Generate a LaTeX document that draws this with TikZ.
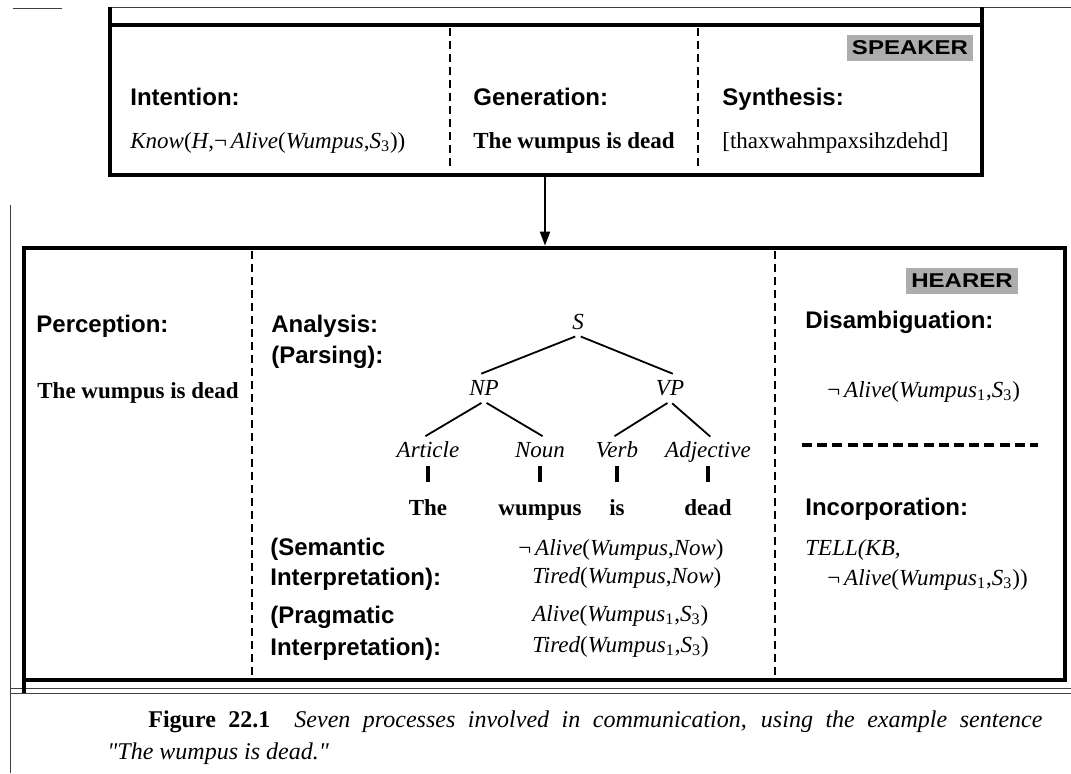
\documentclass[tikz,border=0pt]{standalone}
\usepackage{fontspec}
\setmainfont{Liberation Serif}
\setsansfont{Liberation Sans}
\newfontfamily\tagfont{Liberation Sans}[FakeStretch=1.2]
\newfontfamily\quotefont{Liberation Serif}[Ligatures=TeXOff]
\usetikzlibrary{arrows.meta,positioning}

\newcommand{\fn}[1]{\textit{#1}}
\newcommand{\lneg}{¬\,}

\begin{document}
\begin{tikzpicture}[
  x=0.5pt, y=-0.5pt,
  panel/.style={
    draw,
    line width=2.4pt,
    anchor=north west,
    inner sep=0pt,
    outer sep=0pt
  },
  divider/.style={line width=1.2pt, dash pattern=on 4pt off 2.5pt},
  split/.style={line width=1.8pt, dash pattern=on 5pt off 2.6pt},
  frame/.style={line width=0.5pt, draw=black!75},
  process/.style={
    font=\sffamily\bfseries\fontsize{12}{14}\selectfont,
    anchor=base west,
    inner sep=0pt
  },
  value/.style={
    font=\fontsize{11.5}{13}\selectfont,
    anchor=base west,
    inner sep=0pt
  },
  role/.style={
    font=\tagfont\bfseries\fontsize{10}{12}\selectfont,
    fill=black!32,
    inner xsep=2.5pt,
    inner ysep=3pt
  },
  cat/.style={
    font=\itshape\fontsize{11.5}{13}\selectfont,
    anchor=base,
    inner sep=3pt,
    text height=8pt,
    text depth=0pt
  },
  word/.style={
    font=\bfseries\fontsize{11.5}{13}\selectfont,
    anchor=base,
    inner sep=3pt,
    text height=8pt,
    text depth=0pt
  },
  branch/.style={line width=0.9pt, shorten <=1.5pt, shorten >=-1.5pt},
  tick/.style={line width=1.7pt, shorten <=1.5pt, shorten >=5.5pt},
  pass arrow/.style={
    -{Triangle[length=7pt,width=5pt]},
    line width=1pt,
    shorten >=1.2pt
  }
]
\useasboundingbox (0,0) rectangle (1071,773);

% page frame of the scan
\draw[frame] (13,8) -- (62,8);
\draw[frame] (110,7) -- (1071,7);
\draw[frame] (10,205) -- (10,773);
\draw[frame] (10,688) -- (1071,688);
\draw[frame] (10,693) -- (1071,693);

% speaker
\node[panel, minimum width=436pt, minimum height=75pt] (speaker) at (110,25) {};
\draw[line width=2.4pt] (speaker.north west) -- (110,7);
\draw[line width=2.4pt] (speaker.north east) -- (982,7);
\draw[divider] (450,28) -- (450,170);
\draw[divider] (698,28) -- (698,170);

\node[role] (speaker-tag) at (910,48) {SPEAKER};
\node[process] (intention) at (130,105) {Intention:};
\node[value] (intention-form) at (130,148)
  {\fn{Know}(\fn{H},\lneg\fn{Alive}(\fn{Wumpus},\fn{S}\textsubscript{3}))};
\node[process] (generation) at (473,105) {Generation:};
\node[value,font=\bfseries\fontsize{11.5}{13}\selectfont] (generation-text) at (473,148)
  {The wumpus is dead};
\node[process] (synthesis) at (722,105) {Synthesis:};
\node[value] (synthesis-text) at (722,148) {[thaxwahmpaxsihzdehd]};

% hearer
\node[panel, minimum width=520.5pt, minimum height=216pt] (hearer) at (24,248) {};
\draw[line width=2.4pt] (hearer.south west) -- (24,693);
\draw[divider] (252,251) -- (252,677);
\draw[divider] (775,251) -- (775,677);
\draw[split] (802,445) -- (1038,445);

\coordinate (drop) at (545,0);
\draw[pass arrow] (speaker.south -| drop) -- (hearer.north -| drop);

\node[role] (hearer-tag) at (962,281) {HEARER};
\node[process] (perception) at (36,332) {Perception:};
\node[value,font=\bfseries\fontsize{11.5}{13}\selectfont] (perception-text) at (37,398)
  {The wumpus is dead};

\node[process] (analysis) at (271,332) {Analysis:};
\node[process] (parsing) at (271,363) {(Parsing):};
\node[process] (semantic) at (270,555) {(Semantic};
\node[process] (semantic-b) at (270,585) {Interpretation):};
\node[process] (pragmatic) at (270,623) {(Pragmatic};
\node[process] (pragmatic-b) at (270,655) {Interpretation):};

\node[value] (sem-form) at (518,555) {\lneg\fn{Alive}(\fn{Wumpus},\fn{Now})};
\node[value] (sem-form-b) at (532,583) {\fn{Tired}(\fn{Wumpus},\fn{Now})};
\node[value] (prag-form) at (532,621)
  {\fn{Alive}(\fn{Wumpus}\textsubscript{1},\fn{S}\textsubscript{3})};
\node[value] (prag-form-b) at (532,652)
  {\fn{Tired}(\fn{Wumpus}\textsubscript{1},\fn{S}\textsubscript{3})};

\node[process] (disamb) at (805,328) {Disambiguation:};
\node[value] (disamb-form) at (827,397)
  {\lneg\fn{Alive}(\fn{Wumpus}\textsubscript{1},\fn{S}\textsubscript{3})};
\node[process] (incorp) at (805,515) {Incorporation:};
\node[value] (tell) at (805,555) {\textit{TELL(KB,}};
\node[value] (tell-form) at (827,585)
  {\lneg\fn{Alive}(\fn{Wumpus}\textsubscript{1},\fn{S}\textsubscript{3}))};

% parse tree
\node[cat] (tree-s) at (578,329) {S};
\node[cat] (tree-np) at (484,395) {NP};
\node[cat] (tree-vp) at (670,395) {VP};
\node[cat] (cat-article) at (428,457) {Article};
\node[cat] (cat-noun) at (540,457) {Noun};
\node[cat] (cat-verb) at (617,457) {Verb};
\node[cat] (cat-adj) at (708,457) {Adjective};
\node[word] (word-the) at (428,515) {The};
\node[word] (word-wumpus) at (540,515) {wumpus};
\node[word] (word-is) at (617,515) {is};
\node[word] (word-dead) at (708,515) {dead};

\draw[branch] (tree-s.south) -- (tree-np.north);
\draw[branch] (tree-s.south) -- (tree-vp.north);
\draw[branch] (tree-np.south) -- (cat-article.north);
\draw[branch] (tree-np.south) -- (cat-noun.north);
\draw[branch] (tree-vp.south) -- (cat-verb.north);
\draw[branch] (tree-vp.south) -- (cat-adj.north);
\foreach \c/\w in {article/the,noun/wumpus,verb/is,adj/dead}
  \draw[tick] (cat-\c.south) -- (word-\w.north);

% caption
\node[anchor=base west, inner sep=0pt, font=\fontsize{12}{14}\selectfont] (caption)
  at (148,727) {\makebox[447pt][s]{\textbf{Figure 22.1}\quad
  \textit{Seven processes involved in communication, using the example sentence}}};
\node[anchor=base west, inner sep=0pt, font=\quotefont\fontsize{12}{14}\selectfont] (caption-b)
  at (107,759) {\textit{"The wumpus is dead."}};
\end{tikzpicture}
\end{document}
